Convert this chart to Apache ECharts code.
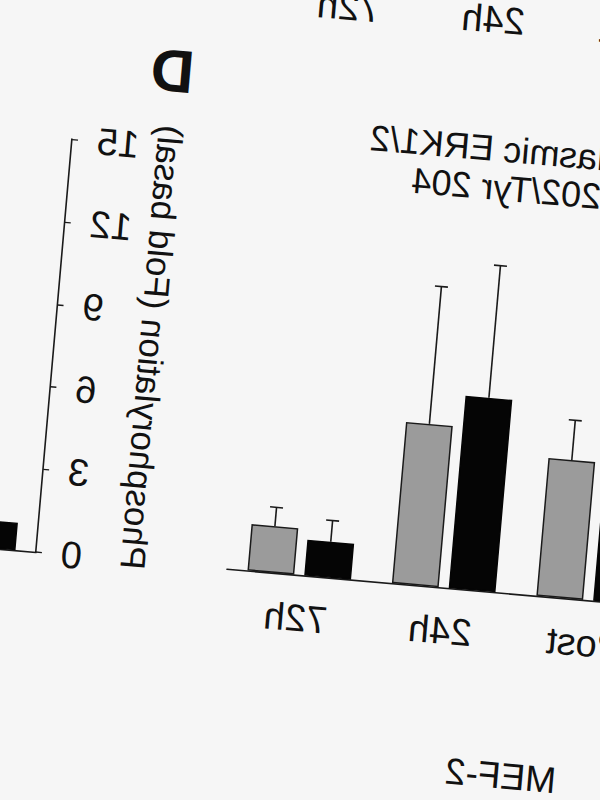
<!DOCTYPE html>
<html>
<head>
<meta charset="utf-8">
<script src="https://cdn.jsdelivr.net/npm/echarts@6/dist/echarts.min.js"></script>
<style>
  html, body { margin:0; padding:0; width:600px; height:800px; overflow:hidden; background:#f6f6f6; }
  #wrap { position:absolute; left:0; top:0; width:600px; height:800px;
          transform-origin:300px 400px; transform: rotate(5deg) scaleX(-1); }
  #chart { position:absolute; left:-400px; top:-600px; width:1600px; height:1500px; }
</style>
</head>
<body>
<div id="wrap"><div id="chart"></div></div>
<script>
// ---- data (original, un-mirrored order) ----
const categories = ['Basal', 'Post', '24h', '72h'];
const blackC    = [1, 6.0, 6.99, 1.30];
const blackErrC = [0, 1.5, 4.80, 0.77];
const grayC     = [1, 5.01, 5.86, 1.69];
const grayErrC  = [0, 1.44, 4.99, 0.68];
const blackD    = [1, null, null, null];
const grayD     = [1, null, null, null];
const yMin = 0, yMax = 15, yStep = 3;
const titleC = ['Cytoplasmic ERK1/2', 'Thr 202/Tyr 204'];
const titleYD = 'Phosphorylation (Fold basal)';
const panelLabel = 'D';
const groupLabel = 'MEF-2';

// ---- layout ----
const OX = 400, OY = 600;
const FONT = 'Liberation Sans, Arial, Helvetica, sans-serif';
const BW = 47, GAP = 10, HALF = (BW + GAP) / 2;

const chart = echarts.init(document.getElementById('chart'), null, {renderer: 'svg'});

function errSeries(vals, errs, off, xi, yi) {
  return {
    type: 'custom', xAxisIndex: xi, yAxisIndex: yi, z: 5,
    encode: {x: 0, y: 1},
    data: vals.map((v, i) => [i, v, errs[i]]).filter(d => d[1] != null && d[2] > 0),
    renderItem: function (params, api) {
      const i = api.value(0), v = api.value(1), e = api.value(2);
      const base = api.coord([i, v]);
      const top = api.coord([i, v + e]);
      const x = base[0] + off;
      const st = {stroke: '#1a1a1a', lineWidth: 1.6};
      return {type: 'group', children: [
        {type: 'line', shape: {x1: x, y1: base[1], x2: x, y2: top[1]}, style: st},
        {type: 'line', shape: {x1: x - 6.5, y1: top[1], x2: x + 6.5, y2: top[1]}, style: st}
      ]};
    }
  };
}

const axisLine = {show: true, lineStyle: {color: '#1a1a1a', width: 1.6}};
const labelStyle = {color: '#111', fontFamily: FONT, fontSize: 38};

const option = {
  backgroundColor: '#f6f6f6',
  animation: false,
  grid: [
    {left: OX - 222, top: OY + 160, width: 580, height: 414.5},
    {left: OX + 549.8, top: OY + 160, width: 580, height: 414.5},
    {left: OX - 222, top: OY - 500, width: 580, height: 461}
  ],
  xAxis: [
    {type: 'category', gridIndex: 0, data: categories, axisLine: axisLine,
     axisTick: {show: false}, axisLabel: Object.assign({margin: 24}, labelStyle)},
    {type: 'category', gridIndex: 1, data: categories, axisLine: axisLine,
     axisTick: {show: false}, axisLabel: {show: false}},
    {type: 'category', gridIndex: 2, data: categories, axisLine: axisLine,
     axisTick: {show: false}, axisLabel: Object.assign({margin: 24}, labelStyle)}
  ],
  yAxis: [
    {type: 'value', gridIndex: 0, min: yMin, max: yMax, interval: yStep,
     axisLine: axisLine, axisTick: {show: true, length: 6, lineStyle: {color: '#1a1a1a', width: 1.4}},
     splitLine: {show: false}, axisLabel: Object.assign({margin: 25}, labelStyle)},
    {type: 'value', gridIndex: 1, min: yMin, max: yMax, interval: yStep,
     axisLine: axisLine, axisTick: {show: true, length: 6, lineStyle: {color: '#1a1a1a', width: 1.4}},
     splitLine: {show: false}, axisLabel: Object.assign({margin: 25}, labelStyle)},
    {type: 'value', gridIndex: 2, min: yMin, max: yMax, show: false, splitLine: {show: false}}
  ],
  series: [
    {name: 'Black', type: 'bar', xAxisIndex: 0, yAxisIndex: 0, data: blackC,
     barWidth: BW, barGap: (GAP / BW * 100) + '%',
     itemStyle: {color: '#050505', borderColor: '#050505', borderWidth: 1.5}},
    {name: 'Gray', type: 'bar', xAxisIndex: 0, yAxisIndex: 0, data: grayC,
     barWidth: BW, barGap: (GAP / BW * 100) + '%',
     itemStyle: {color: '#9b9b9b', borderColor: '#1a1a1a', borderWidth: 1.5}},
    errSeries(blackC, blackErrC, -HALF, 0, 0),
    errSeries(grayC, grayErrC, HALF, 0, 0),
    {name: 'Black D', type: 'bar', xAxisIndex: 1, yAxisIndex: 1, data: blackD,
     barWidth: BW, barGap: (GAP / BW * 100) + '%',
     itemStyle: {color: '#050505', borderColor: '#050505', borderWidth: 1.5}},
    {name: 'Gray D', type: 'bar', xAxisIndex: 1, yAxisIndex: 1, data: grayD,
     barWidth: BW, barGap: (GAP / BW * 100) + '%',
     itemStyle: {color: '#9b9b9b', borderColor: '#1a1a1a', borderWidth: 1.5}}
  ],
  graphic: [
    {type: 'text', x: OX + 253, y: OY + 132.4,
     style: {text: titleC[0], font: '36px ' + FONT, fill: '#111', align: 'right', textAlign: 'right', verticalAlign: 'middle', textVerticalAlign: 'middle'}},
    {type: 'text', x: OX + 208, y: OY + 171.1,
     style: {text: titleC[1], font: '36px ' + FONT, fill: '#111', align: 'right', textAlign: 'right', verticalAlign: 'middle', textVerticalAlign: 'middle'}},
    {type: 'text', x: OX + 452, y: OY + 360.5, rotation: Math.PI / 2,
     style: {text: titleYD, font: '35px ' + FONT, fill: '#111', align: 'center', textAlign: 'center', verticalAlign: 'middle', textVerticalAlign: 'middle'}},
    {type: 'text', x: OX + 455.7, y: OY + 83.4,
     style: {text: panelLabel, font: 'bold 60px ' + FONT, fill: '#111', align: 'center', textAlign: 'center', verticalAlign: 'middle', textVerticalAlign: 'middle'}},
    {type: 'text', x: OX + 67.5, y: OY + 757,
     style: {text: groupLabel, font: '37px ' + FONT, fill: '#111', align: 'center', textAlign: 'center', verticalAlign: 'middle', textVerticalAlign: 'middle'}}
  ]
};
chart.setOption(option);
</script>
</body>
</html>
